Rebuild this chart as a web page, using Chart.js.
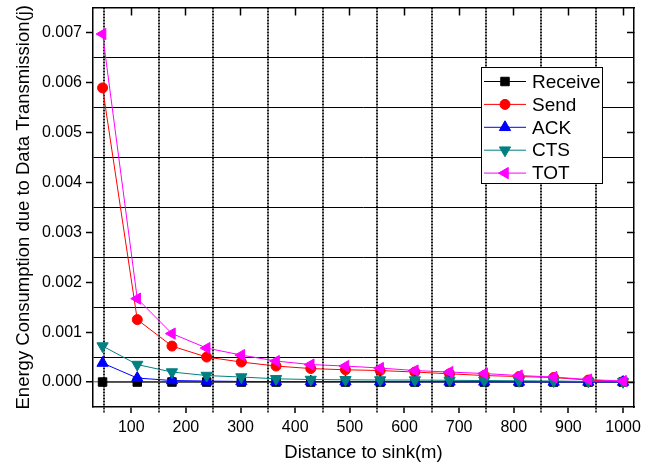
<!DOCTYPE html>
<html>
<head>
<meta charset="utf-8">
<script src="https://cdn.jsdelivr.net/npm/chart.js@4.4.1/dist/chart.umd.min.js"></script>
<style>
html,body{margin:0;padding:0;background:#fff;}
#wrap{width:656px;height:470px;position:relative;}
</style>
</head>
<body>
<div id="wrap"><canvas id="c" width="656" height="470"></canvas></div>
<script>
// ---- data ----
const distances = [47.5, 111, 174.5, 238, 301.5, 365, 428.5, 492, 555.5, 619, 682.5, 746, 809.5, 873, 936.5, 1000];
const receive = [0, 0, 0, 0, 0, 0, 0, 0, 0, 0, 0, 0, 0, 0, 0, 0];
const send = [0.00589, 0.00125, 0.00072, 0.00050, 0.00040, 0.00032, 0.00027, 0.000245, 0.00023, 0.00020, 0.000165, 0.00013, 0.00011, 0.00009, 0.00004, 0.00001];
const ack = [0.00038, 0.00008, 0.00003, 0.00002, 0.000012, 0.00001, 0.00001, 0.00001, 0.000008, 0.000006, 0.000005, 0.000004, 0.000003, 0.000002, 0.000001, 0];
const cts = [0.00072, 0.00035, 0.00020, 0.00013, 0.00010, 0.000065, 0.00005, 0.000045, 0.00004, 0.00004, 0.000035, 0.00003, 0.000025, 0.00002, 0.000012, 0.000005];
const tot = [0.00697, 0.00167, 0.00097, 0.00068, 0.00054, 0.00042, 0.00035, 0.00032, 0.00028, 0.00023, 0.00020, 0.00017, 0.00013, 0.00010, 0.00005, 0.00002];
const seriesNames = ['Receive', 'Send', 'ACK', 'CTS', 'TOT'];
const xTickValues = [100, 200, 300, 400, 500, 600, 700, 800, 900, 1000];
const xGridValues = [50, 150, 250, 350, 450, 550, 650, 750, 850, 950];
const yTickLabels = ['0.000', '0.001', '0.002', '0.003', '0.004', '0.005', '0.006', '0.007'];
const xTitle = 'Distance to sink(m)';
const yTitle = 'Energy Consumption due to Data Transmission(j)';

// ---- styles ----
const FONT = "'Liberation Sans', Arial, Helvetica, sans-serif";
Chart.defaults.font.family = FONT;
Chart.defaults.color = '#000';
const CLEAR = 'rgba(0,0,0,0)';

const styles = {
  Receive: {color: '#000000', style: 'rect', rot: 0, r: 6, order: 5},
  Send: {color: '#ff0000', style: 'circle', rot: 0, r: 5, order: 4},
  ACK: {color: '#0000ff', style: 'triangle', rot: 0, r: 6.5, order: 3},
  CTS: {color: '#008080', style: 'triangle', rot: 180, r: 6.5, order: 2},
  TOT: {color: '#ff00ff', style: 'triangle', rot: -90, r: 6.5, order: 1}
};
const seriesData = {Receive: receive, Send: send, ACK: ack, CTS: cts, TOT: tot};

const datasets = seriesNames.map(name => {
  const s = styles[name];
  return {
    label: name,
    data: distances.map((d, i) => ({x: d, y: seriesData[name][i]})),
    borderColor: s.color,
    backgroundColor: s.color,
    borderWidth: 1,
    pointStyle: s.style,
    rotation: s.rot,
    pointRadius: s.r,
    pointHoverRadius: s.r,
    pointBorderWidth: 1,
    tension: 0,
    order: s.order,
    clip: false
  };
});

const xAll = xGridValues.concat(xTickValues).sort((a, b) => a - b);
const yAllK = [];
for (let k = 0; k <= 14; k++) yAllK.push(k); // half-steps of 0.0005
const kOf = v => Math.round(v * 2000);
const isGridX = c => !!(c.tick && xGridValues.indexOf(c.tick.value) >= 0);

function drawMarker(ctx, s, x, y) {
  ctx.save();
  ctx.fillStyle = s.color;
  ctx.strokeStyle = s.color;
  ctx.lineWidth = 1;
  ctx.beginPath();
  if (s.style === 'rect') {
    const h = s.r * Math.SQRT1_2;
    ctx.rect(x - h, y - h, 2 * h, 2 * h);
  } else if (s.style === 'circle') {
    ctx.arc(x, y, s.r, 0, Math.PI * 2);
  } else {
    let a = s.rot * Math.PI / 180;
    ctx.moveTo(x + Math.sin(a) * s.r, y - Math.cos(a) * s.r);
    a += 2 * Math.PI / 3;
    ctx.lineTo(x + Math.sin(a) * s.r, y - Math.cos(a) * s.r);
    a += 2 * Math.PI / 3;
    ctx.lineTo(x + Math.sin(a) * s.r, y - Math.cos(a) * s.r);
    ctx.closePath();
  }
  ctx.fill();
  ctx.stroke();
  ctx.restore();
}

const boxLegend = {
  id: 'boxLegend',
  afterDatasetsDraw(chart) {
    const ctx = chart.ctx;
    const bx = 481.5, by = 67.5, bw = 121, bh = 116;
    ctx.save();
    ctx.fillStyle = '#fff';
    ctx.fillRect(bx, by, bw, bh);
    ctx.strokeStyle = '#000';
    ctx.lineWidth = 1;
    ctx.strokeRect(bx, by, bw, bh);
    ctx.font = '19px ' + FONT;
    ctx.textBaseline = 'middle';
    ctx.textAlign = 'left';
    seriesNames.forEach((name, i) => {
      const s = styles[name];
      const y = 81.5 + 22.9 * i;
      ctx.strokeStyle = s.color;
      ctx.lineWidth = 1;
      ctx.beginPath();
      ctx.moveTo(484, y);
      ctx.lineTo(526, y);
      ctx.stroke();
      drawMarker(ctx, s, 505, y);
      ctx.fillStyle = '#000';
      ctx.fillText(name, 532, y + 1);
    });
    ctx.restore();
  }
};

new Chart(document.getElementById('c'), {
  type: 'line',
  data: {datasets},
  plugins: [boxLegend],
  options: {
    responsive: false,
    animation: false,
    events: [],
    layout: {padding: {top: 6, right: 22, bottom: 0, left: 0}},
    plugins: {legend: {display: false}, tooltip: {enabled: false}},
    scales: {
      x: {
        type: 'linear', position: 'bottom', min: 30, max: 1020,
        afterBuildTicks: s => { s.ticks = xAll.map(v => ({value: v})); },
        afterFit: s => { s.height = 63; s.paddingLeft = 0; s.paddingRight = 0; },
        ticks: {
          autoSkip: false, maxRotation: 0, minRotation: 0, padding: 5,
          font: {size: 16}, color: '#000',
          callback: v => (xTickValues.indexOf(v) >= 0 ? String(v) : '')
        },
        grid: {
          color: c => isGridX(c) ? '#1a1a1a' : CLEAR,
          lineWidth: 2,
          tickLength: 6,
          tickColor: '#000',
          tickWidth: 1.5,
          tickBorderDash: c => isGridX(c) ? [2, 1] : []
        },
        border: {
          display: true, color: '#000', width: 1.5,
          dash: c => isGridX(c) ? [2, 1] : []
        },
        title: {display: true, text: xTitle, font: {size: 18.5}, color: '#000', padding: {top: 0, bottom: 6}}
      },
      y: {
        type: 'linear', position: 'left', min: -0.0005, max: 0.0075,
        afterBuildTicks: s => { s.ticks = yAllK.map(k => ({value: k / 2000})); },
        afterFit: s => { s.width = 93; s.paddingTop = 0; s.paddingBottom = 0; },
        ticks: {
          autoSkip: false, padding: 4, font: {size: 16}, color: '#000',
          callback: v => { const k = kOf(v); return (k >= 0 && k % 2 === 0) ? yTickLabels[k / 2] : ''; }
        },
        grid: {
          color: c => { if (!c.tick) return CLEAR; const k = kOf(c.tick.value); if (k === 0) return '#8a8a8a'; return (k % 2 !== 0) ? '#000' : CLEAR; },
          lineWidth: c => (c.tick && kOf(c.tick.value) === 0) ? 1.5 : 1,
          tickLength: 7,
          tickWidth: 1.5,
          tickColor: c => { if (!c.tick) return CLEAR; const k = kOf(c.tick.value); return (k % 2 === 0) ? '#000' : CLEAR; }
        },
        border: {display: true, color: '#000', width: 1.5},
        title: {display: true, text: yTitle, font: {size: 18.5}, color: '#000', padding: {top: 13, bottom: 0}}
      },
      x2: {
        type: 'linear', position: 'top', min: 30, max: 1020,
        afterBuildTicks: s => { s.ticks = xTickValues.map(v => ({value: v})); },
        afterFit: s => { s.height = 0; },
        ticks: {display: false},
        grid: {drawOnChartArea: false, drawTicks: true, tickLength: -8, tickColor: '#000', tickWidth: 1.5, color: '#000'},
        border: {display: true, color: '#000', width: 1.5}
      },
      y2: {
        type: 'linear', position: 'right', min: -0.0005, max: 0.0075,
        afterBuildTicks: s => { s.ticks = yTickLabels.map((t, i) => ({value: i / 1000})); },
        afterFit: s => { s.width = 0; },
        ticks: {display: false},
        grid: {drawOnChartArea: false, drawTicks: true, tickLength: -7, tickColor: '#000', tickWidth: 1.5, color: '#000'},
        border: {display: true, color: '#000', width: 1.5}
      }
    }
  }
});
</script>
</body>
</html>
